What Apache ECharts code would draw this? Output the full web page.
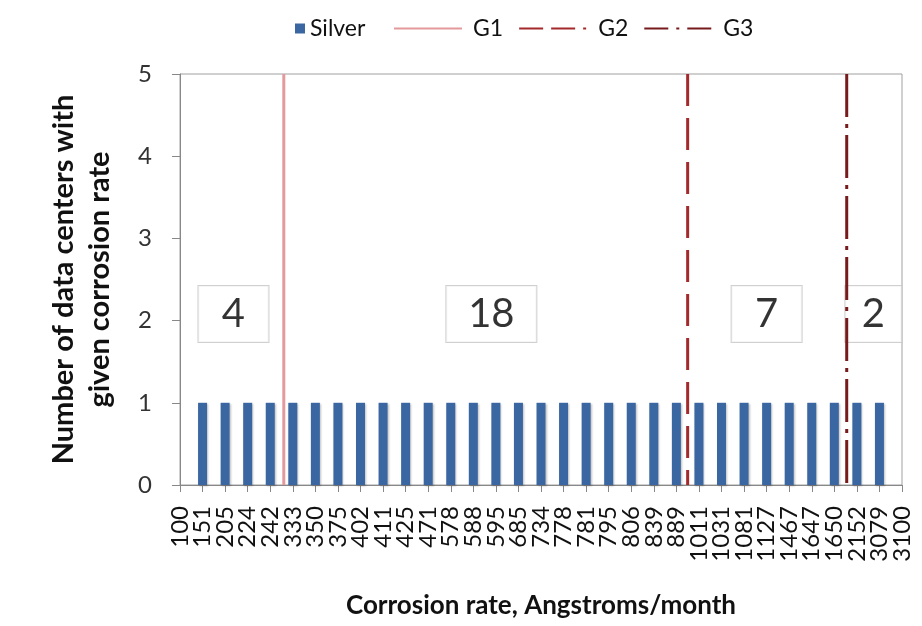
<!DOCTYPE html>
<html>
<head>
<meta charset="utf-8">
<script src="https://cdn.jsdelivr.net/npm/echarts@6/dist/echarts.min.js"></script>
<style>
html,body{margin:0;padding:0;background:#fff;}
#chart{width:922px;height:626px;}
</style>
</head>
<body>
<div id="chart"></div>
<script>
// Corrosion rate categories (Angstroms/month)
var categories = ['100','151','205','224','242','333','350','375','402','411','425','471','578','588','595','685','734','778','781','795','806','839','889','1011','1031','1081','1127','1467','1647','1650','2152','3079','3100'];
// Number of data centers with given corrosion rate
var silverValues = [0,1,1,1,1,1,1,1,1,1,1,1,1,1,1,1,1,1,1,1,1,1,1,1,1,1,1,1,1,1,1,1,0];
// Class boundary lines, in category-index units along the axis
var g1Pos = 4.6;
var g2Pos = 22.5;
var g3Pos = 29.55;
// Count boxes: [position along axis (category index units), y value, count]
var boxCounts = [4, 18, 7, 2];
var boxX = [2.37, 13.8, 26.0, 30.73];
var boxY = [2.08, 2.08, 2.08, 2.08];
var yTicks = [0, 1, 2, 3, 4, 5];

var FONT = 'Lato';
var chart = echarts.init(document.getElementById('chart'), null, {renderer: 'canvas'});

var boxWidths = [70, 90, 70, 56];
var boxData = boxCounts.map(function (c, i) {
  return {value: [boxX[i], boxY[i], c], label: {width: boxWidths[i]}};
});

function vline(pos) { return [[pos, yTicks[yTicks.length - 1]], [pos, yTicks[0]]]; }

var option = {
  backgroundColor: '#fff',
  animation: false,
  textStyle: {fontFamily: FONT},
  legend: [
    {
      data: ['Silver'],
      left: 290, top: 12,
      itemWidth: 10, itemHeight: 10,
      icon: 'rect',
      textStyle: {fontFamily: FONT, fontSize: 23, color: '#111'}
    },
    {
      data: [
        {name: 'G1'},
        {name: 'G2', lineStyle: {type: [24, 8, 24, 8, 3, 8]}},
        {name: 'G3', lineStyle: {type: [24, 8, 3, 8]}}
      ],
      left: 388, top: 12,
      itemWidth: 68, itemHeight: 14, itemGap: 15,
      itemStyle: {opacity: 0},
      textStyle: {fontFamily: FONT, fontSize: 23, color: '#111', padding: [0, 0, 0, 6]}
    }
  ],
  grid: {
    left: 180, right: 20, top: 74, bottom: 141,
    show: true, borderColor: '#a0a0a0', borderWidth: 1, backgroundColor: 'transparent'
  },
  xAxis: [
    {
      type: 'category',
      data: categories,
      boundaryGap: false,
      name: 'Corrosion rate, Angstroms/month',
      nameLocation: 'middle',
      nameGap: 108,
      nameTextStyle: {fontFamily: FONT, fontSize: 26, fontWeight: 'bold', color: '#111'},
      axisLine: {lineStyle: {color: '#888', width: 1}},
      axisTick: {show: true, interval: 0, length: 7, lineStyle: {color: '#888'}},
      axisLabel: {interval: 0, rotate: 90, margin: 21, fontFamily: FONT, fontSize: 24, color: '#111'},
      splitLine: {show: false}
    },
    {
      type: 'value', min: 0, max: categories.length - 1, show: false
    }
  ],
  yAxis: {
    type: 'value',
    min: 0, max: 5, interval: 1,
    name: 'Number of data centers with\ngiven corrosion rate',
    nameLocation: 'middle',
    nameGap: 62,
    nameTextStyle: {fontFamily: FONT, fontSize: 29, fontWeight: 'bold', color: '#111', lineHeight: 36},
    axisLine: {show: true, lineStyle: {color: '#888', width: 1}},
    axisTick: {show: true, length: 8, lineStyle: {color: '#888'}},
    axisLabel: {margin: 28, fontFamily: FONT, fontSize: 24, color: '#333'},
    splitLine: {show: false}
  },
  series: [
    {
      name: 'Silver',
      type: 'bar',
      data: silverValues,
      barWidth: 9,
      itemStyle: {color: '#3A66A1', shadowBlur: 2, shadowColor: 'rgba(0,0,0,0.25)', shadowOffsetX: 1, shadowOffsetY: 1},
      z: 2
    },
    {
      name: 'counts',
      type: 'scatter',
      xAxisIndex: 1,
      data: boxData,
      symbol: 'rect',
      symbolSize: 1,
      itemStyle: {color: 'rgba(0,0,0,0)'},
      label: {
        show: true,
        position: 'inside',
        formatter: function (p) { return String(p.value[2]); },
        fontFamily: FONT, fontSize: 40, color: '#000',
        backgroundColor: '#fff',
        borderColor: '#c4c4c4', borderWidth: 1,
        width: 70, height: 40, lineHeight: 40,
        align: 'center', verticalAlign: 'middle',
        padding: [8, 0]
      },
      z: 3
    },
    {
      name: 'G1', type: 'line', xAxisIndex: 1,
      data: vline(g1Pos), symbol: 'none',
      lineStyle: {color: '#E49A9C', width: 3, type: 'solid'},
      itemStyle: {color: '#E49A9C'},
      z: 4
    },
    {
      name: 'G2', type: 'line', xAxisIndex: 1,
      data: vline(g2Pos), symbol: 'none',
      lineStyle: {color: '#A3292B', width: 3, type: [32, 12]},
      itemStyle: {color: '#A3292B'},
      z: 4
    },
    {
      name: 'G3', type: 'line', xAxisIndex: 1,
      data: vline(g3Pos), symbol: 'none',
      lineStyle: {color: '#761A1C', width: 3, type: [43, 7, 4, 7]},
      itemStyle: {color: '#761A1C'},
      z: 4
    }
  ]
};
chart.setOption(option);
</script>
</body>
</html>
